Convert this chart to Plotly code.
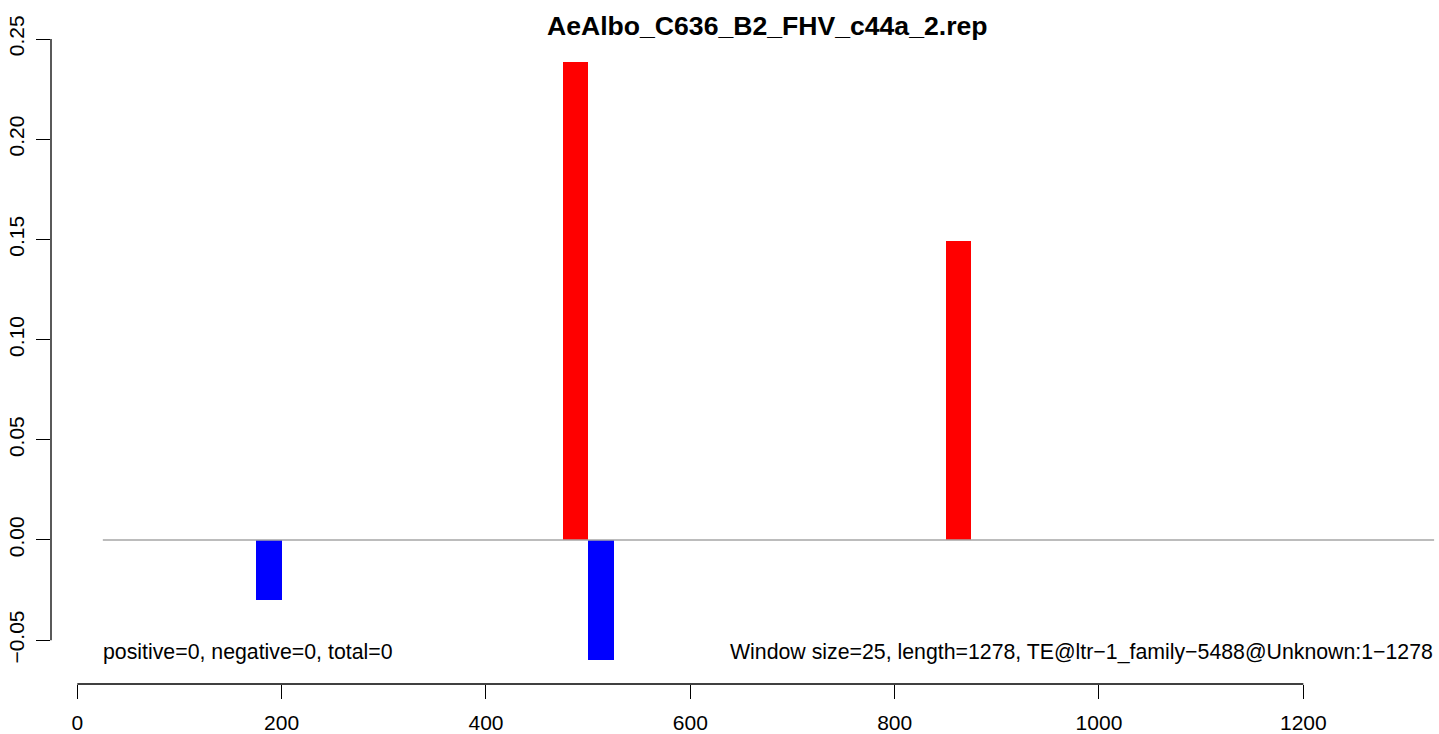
import plotly.graph_objects as go

# Data (window starts, window size 25)
window_size = 25
pos_starts = [475, 850]
pos_values = [0.2385, 0.149]
neg_starts = [175, 500]
neg_values = [-0.03, -0.06]
x_ticks = [0, 200, 400, 600, 800, 1000, 1200]
y_ticks = [-0.05, 0.00, 0.05, 0.10, 0.15, 0.20, 0.25]
line_start, line_end = 25, 1328
title_text = "AeAlbo_C636_B2_FHV_c44a_2.rep"
left_note = "positive=0, negative=0, total=0"
right_note = "Window size=25, length=1278, TE@ltr\u22121_family\u22125488@Unknown:1\u22121278"

FONT = "Liberation Sans, Arial, Helvetica, sans-serif"

fig = go.Figure()
fig.add_trace(go.Bar(
    x=[s + window_size / 2 for s in pos_starts], y=pos_values, width=window_size,
    marker=dict(color="#ff0000", line=dict(width=0)), showlegend=False, hoverinfo="skip"))
fig.add_trace(go.Bar(
    x=[s + window_size / 2 for s in neg_starts], y=neg_values, width=window_size,
    marker=dict(color="#0000ff", line=dict(width=0)), showlegend=False, hoverinfo="skip"))

# zero line
fig.add_shape(type="line", xref="x", yref="y", x0=line_start, x1=line_end, y0=0, y1=0,
              line=dict(color="#a6a6a6", width=1.5), layer="above")
# axis lines (R style, spanning tick range)
fig.add_shape(type="line", xref="x", yref="paper", x0=x_ticks[0], x1=x_ticks[-1], y0=0, y1=0,
              line=dict(color="black", width=1.3))
fig.add_shape(type="line", xref="paper", yref="y", x0=0, x1=0, y0=y_ticks[0], y1=y_ticks[-1],
              line=dict(color="black", width=1.3))

fig.add_annotation(x=line_start, y=-0.0559, xref="x", yref="y", text=left_note,
                   showarrow=False, xanchor="left", yanchor="middle", xshift=-2,
                   font=dict(family=FONT, size=21.3, color="black"))
fig.add_annotation(x=line_end, y=-0.0559, xref="x", yref="y", text=right_note,
                   showarrow=False, xanchor="right", yanchor="middle", xshift=1,
                   font=dict(family=FONT, size=21.3, color="black"))
fig.add_annotation(x=0.5162, y=1.0185, xref="paper", yref="paper", text="<b>" + title_text + "</b>",
                   showarrow=False, xanchor="center", yanchor="middle",
                   font=dict(family=FONT, size=26.6, color="black"))

fig.update_layout(
    width=1439, height=734,
    margin=dict(l=51, r=0, t=38, b=50, pad=0, autoexpand=False),
    plot_bgcolor="white", paper_bgcolor="white",
    barmode="overlay", bargap=0,
    font=dict(family=FONT, size=21, color="black"),
    xaxis=dict(range=[-25.74, 1332.8], tickmode="array", tickvals=x_ticks,
               ticktext=[str(v) for v in x_ticks], automargin=False,
               showgrid=False, zeroline=False, showline=False,
               ticks="outside", ticklen=14, tickwidth=1.3, tickcolor="black",
               tickfont=dict(family=FONT, size=21, color="black"), ticklabelstandoff=6),
    yaxis=dict(range=[-0.07186, 0.2505], tickmode="array", tickvals=y_ticks,
               ticktext=[("\u2212" if v < 0 else "") + f"{abs(v):.2f}" for v in y_ticks],
               automargin=False,
               showgrid=False, zeroline=False, showline=False,
               ticks="outside", ticklen=14, tickwidth=1.3, tickcolor="black",
               tickangle=-90,
               tickfont=dict(family=FONT, size=21, color="black"), ticklabelstandoff=4),
)

fig.write_html("out.html", config={"displayModeBar": False},
               post_script="document.body.style.margin='0';")
